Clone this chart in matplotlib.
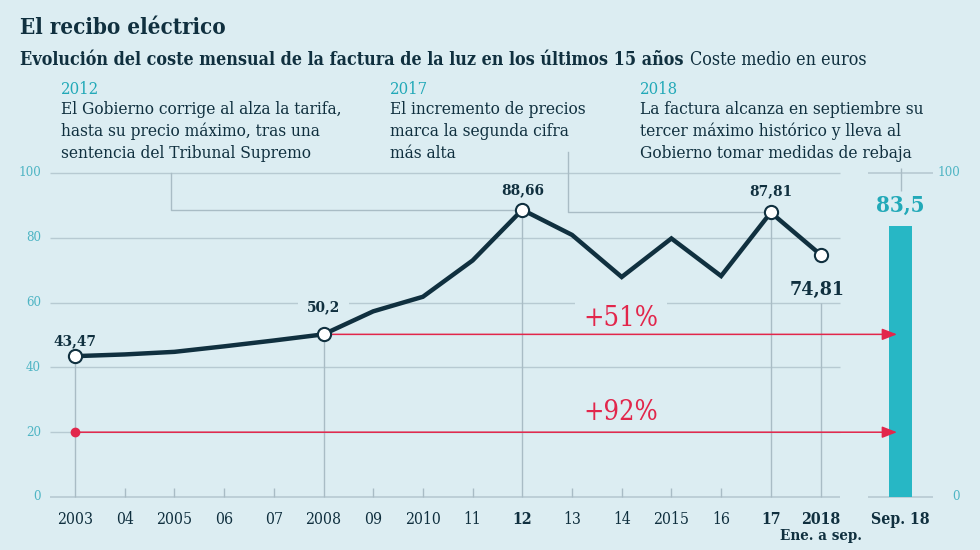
import matplotlib
matplotlib.use('Agg')
import matplotlib.pyplot as plt

# ---------------- data ----------------
years = [2003, 2004, 2005, 2006, 2007, 2008, 2009, 2010, 2011, 2012,
         2013, 2014, 2015, 2016, 2017, 2018]
cost = [43.47, 44.0, 44.8, 46.5, 48.3, 50.2, 57.3, 61.8, 73.0, 88.66,
        80.9, 67.9, 79.8, 68.2, 87.81, 74.81]
tick_labels = ['2003', '04', '2005', '06', '07', '2008', '09', '2010', '11',
               '12', '13', '14', '2015', '16', '17', '2018']
bold_ticks = ['12', '17', '2018']
highlight_years = [2003, 2008, 2012, 2017, 2018]
value_labels = ['43,47', '50,2', '88,66', '87,81', '74,81']
sep_label = 'Sep. 18'
sep_value = 83.5
sep_value_label = '83,5'
yticks = [0, 20, 40, 60, 80, 100]
pct_labels = ['+51%', '+92%']

title = 'El recibo eléctrico'
subtitle = 'Evolución del coste mensual de la factura de la luz en los últimos 15 años'
subtitle_unit = 'Coste medio en euros'
notes = [
    ('2012', ['El Gobierno corrige al alza la tarifa,',
              'hasta su precio máximo, tras una',
              'sentencia del Tribunal Supremo']),
    ('2017', ['El incremento de precios',
              'marca la segunda cifra',
              'más alta']),
    ('2018', ['La factura alcanza en septiembre su',
              'tercer máximo histórico y lleva al',
              'Gobierno tomar medidas de rebaja']),
]

# ---------------- style ----------------
BG = '#dcedf2'
DARK = '#10303f'
TEAL = '#22a9b8'
TEAL_LIGHT = '#4fb5c4'
BAR = '#27b7c5'
RED = '#e2264b'
GRID = '#b7cad2'
VGRID = '#a9bcc5'
FONT = 'DejaVu Serif'

W, H = 980, 550
fig = plt.figure(figsize=(W / 100, H / 100), dpi=100, facecolor=BG)
ax = fig.add_axes([0, 0, 1, 1])
ax.set_facecolor(BG)
ax.axis('off')

# pixel mapping (x: 2003 -> 75px, 49.7 px/yr ; y: 0 -> 497px, 3.24 px/unit)
PXY, X0PX = 49.7, 75
PXU, Y0PX = 3.24, 497
ax.set_xlim(2003 - X0PX / PXY, 2003 + (W - X0PX) / PXY)
ax.set_ylim(-(H - Y0PX) / PXU, Y0PX / PXU)


def dx(px):
    return 2003 + (px - X0PX) / PXY


def dy(py):
    return (Y0PX - py) / PXU


def fx(px):
    return px / W


def fy(py):
    return 1 - py / H


tk = dict(family=FONT, fontstretch='condensed')

# ---------------- titles ----------------
fig.text(fx(20), fy(28), title, fontsize=16, fontweight='bold', color=DARK,
         va='center', ha='left', **tk)
st = fig.text(fx(20), fy(60), subtitle, fontsize=12.9, fontweight='bold',
              color=DARK, va='center', ha='left', **tk)
fig.canvas.draw()
bb = st.get_window_extent()
fig.text(fx(bb.x1 + 6), fy(60), subtitle_unit, fontsize=12.9, color=DARK,
         va='center', ha='left', **tk)

note_x = [61, 390, 640]
for (head, lines), nx in zip(notes, note_x):
    fig.text(fx(nx), fy(89), head, fontsize=12, color=TEAL, va='center',
             ha='left', **tk)
    for i, ln in enumerate(lines):
        fig.text(fx(nx), fy(109 + 22 * i), ln, fontsize=12.4, color=DARK,
                 va='center', ha='left', **tk)

# ---------------- grid / axes ----------------
gx0, gx1 = dx(50), dx(840)
for v in yticks[1:]:
    ax.hlines(v, gx0, gx1, color=GRID, lw=1, zorder=1)
ax.hlines(0, gx0, gx1, color=GRID, lw=1.2, zorder=1)
for v in yticks:
    ax.text(dx(41), v, str(v), fontsize=9.5, color=TEAL_LIGHT, ha='right',
            va='center', **tk)

# bar axis
bx0, bx1 = dx(868), dx(933)
bar_x = dx(900.5)
ax.hlines([0, 100], bx0, bx1, color=GRID, lw=1.2, zorder=1)
for v in (0, 100):
    ax.text(dx(960), v, str(v), fontsize=9.5, color=TEAL_LIGHT, ha='right',
            va='center', **tk)

# x ticks
for yr, lab, val in zip(years, tick_labels, cost):
    bold = lab in bold_ticks
    if yr in highlight_years:
        top = min(val, 60) if yr == years[-1] else val
        ax.vlines(yr, 0, top, color=VGRID, lw=1, zorder=1)
    else:
        ax.vlines(yr, 0, 9 / PXU, color=VGRID, lw=1, zorder=1)
    ax.text(yr, dy(519), lab, fontsize=11.3, color=DARK, ha='center',
            va='center', fontweight='bold' if bold else 'normal', **tk)
ax.text(dx(821), dy(536), 'Ene. a sep.', fontsize=10.8, color=DARK,
        ha='center', va='center', fontweight='bold', **tk)
ax.text(bar_x, dy(519), sep_label, fontsize=11.3, color=DARK, ha='center',
        va='center', fontweight='bold', **tk)

# ---------------- bar ----------------
ax.bar([bar_x], [sep_value], width=23 / PXY, color=BAR, zorder=2)
ax.text(bar_x, sep_value + 3, sep_value_label, fontsize=16, color=TEAL,
        ha='center', va='bottom', fontweight='bold', **tk)
ax.vlines(bar_x, dy(191), dy(168), color=VGRID, lw=1, zorder=1)

# ---------------- annotations connectors ----------------
i12 = years.index(2012)
i17 = years.index(2017)
c12 = dx(171)
ax.plot([c12, c12, 2012], [100, cost[i12], cost[i12]], color=VGRID, lw=1,
        zorder=1)
c17 = dx(568)
ax.plot([c17, c17, 2017], [dy(152), cost[i17], cost[i17]], color=VGRID,
        lw=1, zorder=1)

# ---------------- red arrows ----------------
i08 = years.index(2008)
arrow_tip = dx(897)
for start, lvl in ((2008, cost[i08]), (2003, 20)):
    ax.annotate('', xy=(arrow_tip, lvl), xytext=(start, lvl),
                arrowprops=dict(arrowstyle='-|>,head_length=0.9,head_width=0.35',
                                color=RED, lw=1.1, shrinkA=0, shrinkB=0),
                zorder=3.5)
ax.plot([2003], [20], 'o', color=RED, ms=6, zorder=3.6)
bbox_pct = dict(boxstyle='square,pad=0.3', fc=BG, ec='none')
ax.text(dx(621), dy(318), pct_labels[0], fontsize=19.5, color=RED, ha='center',
        va='center', bbox=bbox_pct, zorder=3, **tk)
ax.text(dx(621), dy(413), pct_labels[1], fontsize=19.5, color=RED, ha='center',
        va='center', zorder=3, **tk)

# ---------------- line ----------------
ax.plot(years, cost, color=DARK, lw=3.2, zorder=4, solid_joinstyle='miter')
hx = highlight_years
hv = [cost[years.index(y)] for y in hx]
ax.plot(hx, hv, 'o', ms=9.5, mfc='white', mec=DARK, mew=1.5, zorder=5)

# value labels
label_pos = [(0, 15), (0, 27), (0, 20), (0, 21), (-3, -35)]
for (yr, v, lab, (ox, oy)) in zip(hx, hv, value_labels, label_pos):
    big = yr == years[-1]
    gap = yr == 2008
    ax.text(yr + ox / PXY, v + oy / PXU, lab, fontsize=14 if big else 11,
            color=DARK, ha='center', va='center', fontweight='bold',
            bbox=dict(boxstyle='square,pad=0.6', fc=BG, ec='none') if gap else None,
            zorder=3, **tk)

fig.savefig('out.png', dpi=100, facecolor=BG)
